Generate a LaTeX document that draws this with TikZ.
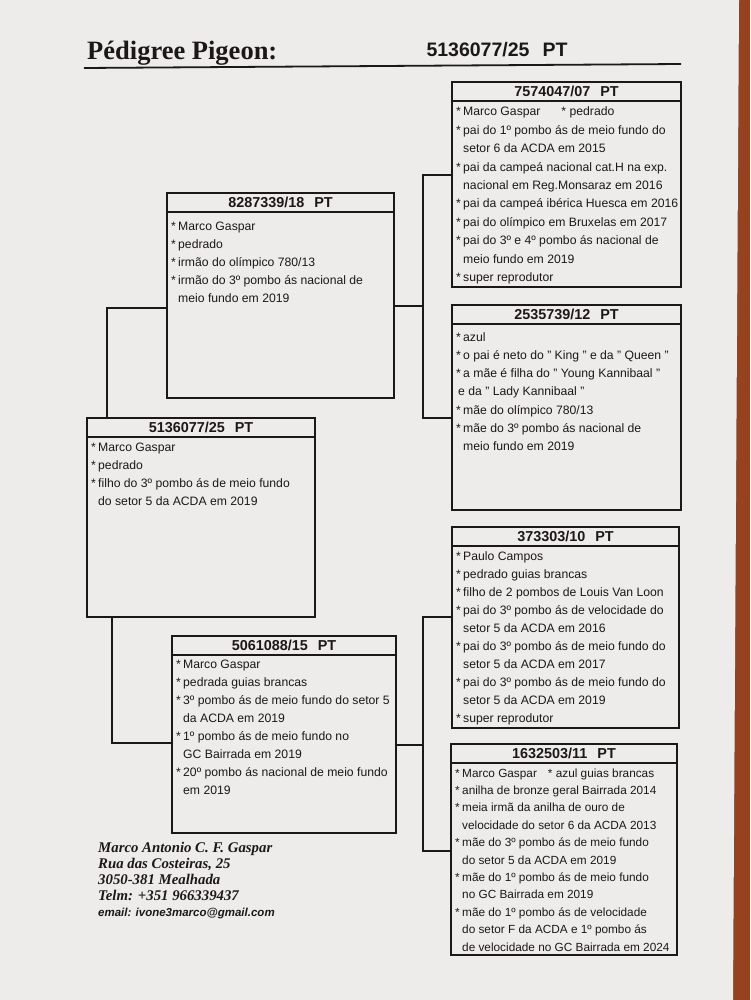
\documentclass[tikz,border=0pt]{standalone}
\usepackage{fontspec}
\setmainfont{Liberation Sans}
\newfontfamily\titleserif{Liberation Serif}
\usetikzlibrary{calc}
\definecolor{paper}{RGB}{238,236,234}
\definecolor{bgbrown}{RGB}{150,66,30}
\definecolor{ink}{RGB}{28,24,24}
\newcommand\bl{\makebox[7pt][l]{*}}
\newcommand\ct{\hspace*{7pt}}
\newcommand\bsz{12.2}
\tikzset{
 pbox/.style={draw=ink, line width=2.3pt, rectangle, inner sep=0pt, outer sep=0pt, anchor=north west},
 hline/.style={draw=ink, line width=1.8pt},
 htxt/.style={font=\fontsize{14.4}{16}\selectfont\bfseries, text=ink, inner sep=0pt, text height=10.3pt, text depth=0pt, anchor=center},
 btxt/.style={font=\fontsize{\bsz}{14}\selectfont, text=ink, inner sep=0pt, anchor=base west},
 conn/.style={draw=ink, line width=1.1pt},
 foot/.style={font=\titleserif\fontsize{14.8}{16}\selectfont\bfseries\itshape, text=ink, inner sep=0pt, anchor=base west},
}
\newcommand\pedbox[9]{%
 \node[pbox, minimum width={#4-#2}, minimum height={#5-#3}] (#1) at (#2,#3) {};
 \draw[hline] ([yshift=-19pt]#1.north west) -- ([yshift=-19pt]#1.north east);
 \node[htxt] (#1-h) at ([yshift=-9.5pt]#1.north) {#6};
 \foreach \lintext [count=\i from 0] in {#9} {\node[btxt] (#1-\i) at ({#2+4},{#7+\i*#8}) {\lintext};}
}
\begin{document}
\begin{tikzpicture}[x=1pt,y=-1pt]
\useasboundingbox (0,0) rectangle (750,1000);
\fill[bgbrown] (0,0) rectangle (750,1000);
\fill[paper] (0,0) -- (739,0) -- (733,1000) -- (0,1000) -- cycle;

\node[anchor=base west, inner sep=0pt, text=ink, font=\titleserif\fontsize{26.5}{28}\selectfont\bfseries] (title) at (87,60) {Pédigree Pigeon:};
\node[anchor=base, inner sep=0pt, text=ink, font=\fontsize{19.5}{21}\selectfont\bfseries] (ring) at (497,57) {5136077/25\hspace{13pt}PT};
\draw[ink, line width=1.8pt] (84,68) -- (681,64);

\pedbox{A}{452}{82}{681}{287}{7574047/07\hspace{10pt}PT}{116}{18.4}{
 {\bl Marco Gaspar\hspace{21pt}* pedrado},
 {\bl pai do 1º pombo ás de meio fundo do},
 {\ct setor 6 da ACDA em 2015},
 {\bl pai da campeá nacional cat.H na exp.},
 {\ct nacional em Reg.Monsaraz em 2016},
 {\bl pai da campeá ibérica Huesca em 2016},
 {\bl pai do olímpico em Bruxelas em 2017},
 {\bl pai do 3º e 4º pombo ás nacional de},
 {\ct meio fundo em 2019},
 {\bl super reprodutor}}

\pedbox{B}{452}{305}{681}{510}{2535739/12\hspace{10pt}PT}{341}{18.3}{
 {\bl azul},
 {\bl o pai é neto do " King " e da " Queen "},
 {\bl a mãe é filha do " Young Kannibaal "},
 {\hspace*{2pt}e da " Lady Kannibaal "},
 {\bl mãe do olímpico 780/13},
 {\bl mãe do 3º pombo ás nacional de},
 {\ct meio fundo em 2019}}

\pedbox{C}{167}{193}{394}{398}{8287339/18\hspace{10pt}PT}{231}{17.8}{
 {\bl Marco Gaspar},
 {\bl pedrado},
 {\bl irmão do olímpico 780/13},
 {\bl irmão do 3º pombo ás nacional de},
 {\ct meio fundo em 2019}}

\pedbox{D}{87}{418}{315}{617}{5136077/25\hspace{10pt}PT}{451}{18}{
 {\bl Marco Gaspar},
 {\bl pedrado},
 {\bl filho do 3º pombo ás de meio fundo},
 {\ct do setor 5 da ACDA em 2019}}

\pedbox{E}{172}{636}{396}{833}{5061088/15\hspace{10pt}PT}{668}{18}{
 {\bl Marco Gaspar},
 {\bl pedrada guias brancas},
 {\bl 3º pombo ás de meio fundo do setor 5},
 {\ct da ACDA em 2019},
 {\bl 1º pombo ás de meio fundo no},
 {\ct GC Bairrada em 2019},
 {\bl 20º pombo ás nacional de meio fundo},
 {\ct em 2019}}

\pedbox{F}{452}{527}{679}{728}{373303/10\hspace{10pt}PT}{560}{18.1}{
 {\bl Paulo Campos},
 {\bl pedrado guias brancas},
 {\bl filho de 2 pombos de Louis Van Loon},
 {\bl pai do 3º pombo ás de velocidade do},
 {\ct setor 5 da ACDA em 2016},
 {\bl pai do 3º pombo ás de meio fundo do},
 {\ct setor 5 da ACDA em 2017},
 {\bl pai do 3º pombo ás de meio fundo do},
 {\ct setor 5 da ACDA em 2019},
 {\bl super reprodutor}}

\renewcommand\bsz{11.8}
\pedbox{G}{451}{744}{677}{955}{1632503/11\hspace{10pt}PT}{777}{17.4}{
 {\bl Marco Gaspar\hspace{11pt}* azul guias brancas},
 {\bl anilha de bronze geral Bairrada 2014},
 {\bl meia irmã da anilha de ouro de},
 {\ct velocidade do setor 6 da ACDA 2013},
 {\bl mãe do 3º pombo ás de meio fundo},
 {\ct do setor 5 da ACDA em 2019},
 {\bl mãe do 1º pombo ás de meio fundo},
 {\ct no GC Bairrada em 2019},
 {\bl mãe do 1º pombo ás de velocidade},
 {\ct do setor F da ACDA e 1º pombo ás},
 {\ct de velocidade no GC Bairrada em 2024}}

\coordinate (jC) at (423,306);
\coordinate (jE) at (423,745);
\draw[conn] ([yshift=-93pt]A.north west) -| (jC) |- ([yshift=-113pt]B.north west);
\draw[conn] ([yshift=-113pt]C.north east) -- (jC);
\draw[conn] ([yshift=-115pt]C.north west) -| ([xshift=20pt]D.north west);
\draw[conn] ([xshift=25pt]D.south west) |- ([yshift=-107pt]E.north west);
\draw[conn] ([yshift=-90pt]F.north west) -| (jE) |- ([yshift=-107pt]G.north west);
\draw[conn] ([yshift=-109pt]E.north east) -- (jE);

\node[foot] (f1) at (98,852) {Marco Antonio C. F. Gaspar};
\node[foot] (f2) at (98,868.3) {Rua das Costeiras, 25};
\node[foot] (f3) at (98,884.6) {3050-381 Mealhada};
\node[foot] (f4) at (98,900.9) {Telm: +351 966339437};
\node[anchor=base west, inner sep=0pt, text=ink, font=\fontsize{11.5}{13}\selectfont\bfseries\itshape] (f5) at (98,916) {email: ivone3marco@gmail.com};
\end{tikzpicture}
\end{document}
